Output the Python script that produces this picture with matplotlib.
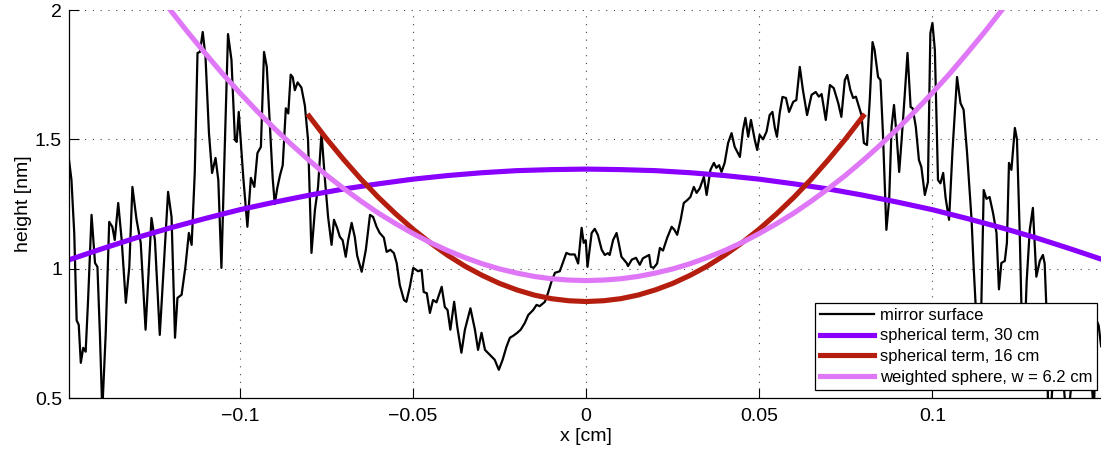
import matplotlib
matplotlib.use("Agg")
import matplotlib.pyplot as plt

plt.rcParams['font.family'] = ['Liberation Sans', 'DejaVu Sans']

# mirror surface profile (x in cm, height in nm)
surf_x = [
    -0.1493, -0.1486, -0.1478, -0.1471, -0.1465, -0.1459, -0.1452, -0.1445, -0.1438, -0.1428,
    -0.1418, -0.1411, -0.1404, -0.1397, -0.1387, -0.1377, -0.1368, -0.1361, -0.1351, -0.1341,
    -0.1329, -0.1319, -0.1310, -0.1298, -0.1286, -0.1272, -0.1255, -0.1245, -0.1231, -0.1207,
    -0.1197, -0.1187, -0.1180, -0.1168, -0.1157, -0.1147, -0.1139, -0.1130, -0.1122, -0.1115,
    -0.1107, -0.1099, -0.1089, -0.1080, -0.1070, -0.1062, -0.1053, -0.1045, -0.1034, -0.1024,
    -0.1014, -0.1009, -0.1003, -0.0990, -0.0978, -0.0968, -0.0958, -0.0949, -0.0939, -0.0930,
    -0.0922, -0.0913, -0.0905, -0.0899, -0.0892, -0.0884, -0.0876, -0.0867, -0.0860, -0.0853,
    -0.0847, -0.0841, -0.0833, -0.0822, -0.0812, -0.0803, -0.0799, -0.0793, -0.0783, -0.0774,
    -0.0764, -0.0754, -0.0745, -0.0735, -0.0728, -0.0719, -0.0711, -0.0703, -0.0694, -0.0687,
    -0.0677, -0.0668, -0.0661, -0.0648, -0.0636, -0.0624, -0.0615, -0.0605, -0.0596, -0.0584,
    -0.0576, -0.0565, -0.0555, -0.0547, -0.0538, -0.0526, -0.0519, -0.0509, -0.0499, -0.0485,
    -0.0475, -0.0469, -0.0460, -0.0451, -0.0442, -0.0432, -0.0417, -0.0408, -0.0400, -0.0392,
    -0.0381, -0.0372, -0.0360, -0.0350, -0.0334, -0.0321, -0.0312, -0.0302, -0.0292, -0.0278,
    -0.0264, -0.0252, -0.0241, -0.0230, -0.0220, -0.0211, -0.0199, -0.0189, -0.0177, -0.0167,
    -0.0153, -0.0143, -0.0134, -0.0119, -0.0110, -0.0100, -0.0090, -0.0076, -0.0057, -0.0047,
    -0.0033, -0.0023, -0.0013, -0.0007, -0.0001, 0.0004, 0.0016, 0.0025, 0.0034, 0.0045,
    0.0054, 0.0063, 0.0068, 0.0078, 0.0088, 0.0094, 0.0102, 0.0117, 0.0121, 0.0132,
    0.0144, 0.0155, 0.0164, 0.0172, 0.0182, 0.0187, 0.0195, 0.0205, 0.0213, 0.0222,
    0.0234, 0.0247, 0.0255, 0.0263, 0.0273, 0.0282, 0.0292, 0.0301, 0.0311, 0.0319,
    0.0328, 0.0340, 0.0348, 0.0359, 0.0369, 0.0376, 0.0384, 0.0391, 0.0400, 0.0410,
    0.0420, 0.0429, 0.0444, 0.0453, 0.0460, 0.0468, 0.0476, 0.0487, 0.0494, 0.0501,
    0.0511, 0.0521, 0.0530, 0.0538, 0.0545, 0.0551, 0.0559, 0.0567, 0.0577, 0.0586,
    0.0598, 0.0607, 0.0617, 0.0626, 0.0638, 0.0651, 0.0663, 0.0672, 0.0680, 0.0692,
    0.0704, 0.0715, 0.0728, 0.0737, 0.0747, 0.0754, 0.0763, 0.0771, 0.0779, 0.0788,
    0.0795, 0.0802, 0.0811, 0.0819, 0.0827, 0.0833, 0.0843, 0.0850, 0.0857, 0.0867,
    0.0875, 0.0882, 0.0889, 0.0896, 0.0904, 0.0911, 0.0920, 0.0928, 0.0937, 0.0943,
    0.0952, 0.0961, 0.0968, 0.0978, 0.0987, 0.0994, 0.1000, 0.1007, 0.1016, 0.1023,
    0.1031, 0.1038, 0.1048, 0.1058, 0.1071, 0.1081, 0.1090, 0.1100, 0.1113, 0.1119,
    0.1127, 0.1134, 0.1141, 0.1148, 0.1156, 0.1165, 0.1175, 0.1185, 0.1192, 0.1199,
    0.1209, 0.1215, 0.1221, 0.1228, 0.1238, 0.1244, 0.1252, 0.1257, 0.1264, 0.1272,
    0.1281, 0.1290, 0.1300, 0.1310, 0.1319, 0.1324, 0.1329, 0.1334, 0.1342, 0.1356,
    0.1370, 0.1385, 0.1391, 0.1396, 0.1411, 0.1431, 0.1448, 0.1466, 0.1474, 0.1480,
    0.1487,
]
surf_y = [
    1.42, 1.343, 1.138, 0.80, 0.783, 0.636, 0.694, 0.679, 0.879, 1.208,
    1.022, 1.007, 0.752, 0.45, 0.752, 1.181, 1.162, 1.111, 1.254, 1.111,
    0.868, 1.007, 1.316, 1.189, 1.100, 0.764, 1.196, 1.111, 0.744, 1.297,
    1.200, 0.733, 0.887, 0.899, 1.007, 1.138, 1.092, 1.370, 1.834, 1.838,
    1.915, 1.820, 1.524, 1.370, 1.428, 1.343, 1.003, 1.393, 1.907, 1.807,
    1.498, 1.490, 1.606, 1.355, 1.162, 1.351, 1.316, 1.447, 1.471, 1.838,
    1.78, 1.55, 1.35, 1.25, 1.31, 1.36, 1.40, 1.62, 1.60, 1.75,
    1.74, 1.69, 1.72, 1.70, 1.63, 1.50, 1.33, 1.061, 1.227, 1.316,
    1.524, 1.343, 1.200, 1.092, 1.189, 1.158, 1.123, 1.11, 1.046, 1.11,
    1.177, 1.123, 1.05, 0.988, 1.073, 1.208, 1.20, 1.162, 1.138, 1.12,
    1.065, 1.073, 1.06, 1.022, 0.937, 0.879, 0.872, 0.930, 1.003, 0.99,
    0.995, 0.910, 0.905, 0.829, 0.879, 0.87, 0.93, 0.852, 0.84, 0.764,
    0.872, 0.775, 0.675, 0.764, 0.847, 0.764, 0.686, 0.752, 0.686, 0.667,
    0.648, 0.609, 0.648, 0.698, 0.733, 0.74, 0.752, 0.764, 0.790, 0.821,
    0.840, 0.860, 0.855, 0.872, 0.906, 0.950, 0.984, 0.990, 1.061, 1.055,
    1.055, 1.020, 1.158, 1.100, 1.11, 1.007, 1.138, 1.154, 1.13, 1.073,
    1.053, 1.06, 1.053, 1.111, 1.138, 1.10, 1.046, 1.022, 1.01, 1.035,
    1.042, 1.015, 1.04, 1.046, 1.053, 1.007, 1.003, 1.02, 1.080, 1.07,
    1.119, 1.162, 1.15, 1.131, 1.189, 1.254, 1.265, 1.277, 1.316, 1.293,
    1.31, 1.355, 1.285, 1.382, 1.409, 1.39, 1.40, 1.374, 1.409, 1.486,
    1.524, 1.471, 1.432, 1.536, 1.583, 1.510, 1.575, 1.498, 1.459, 1.517,
    1.50, 1.53, 1.594, 1.606, 1.544, 1.510, 1.602, 1.664, 1.66, 1.606,
    1.645, 1.652, 1.780, 1.691, 1.594, 1.672, 1.683, 1.665, 1.675, 1.575,
    1.710, 1.698, 1.640, 1.587, 1.729, 1.749, 1.691, 1.660, 1.665, 1.625,
    1.594, 1.486, 1.478, 1.652, 1.876, 1.845, 1.741, 1.729, 1.524, 1.150,
    1.266, 1.548, 1.633, 1.524, 1.374, 1.498, 1.672, 1.834, 1.625, 1.62,
    1.548, 1.420, 1.393, 1.285, 1.335, 1.911, 1.950, 1.845, 1.343, 1.33,
    1.370, 1.274, 1.189, 1.459, 1.741, 1.640, 1.614, 1.447, 1.189, 1.007,
    0.80, 0.60, 0.85, 1.304, 1.27, 1.277, 1.215, 1.138, 0.92, 1.022,
    1.03, 1.10, 1.409, 1.382, 1.544, 1.50, 1.138, 0.85, 0.65, 0.95,
    1.15, 1.235, 0.969, 1.03, 1.053, 1.02, 0.85, 0.45, 0.45, 0.75,
    0.70, 0.45, 0.42, 0.48, 0.70, 0.65, 0.75, 0.45, 0.80, 0.78,
    0.70,
]

# spherical term, 30 cm
sph30_x = [-0.15, -0.14, -0.13, -0.12, -0.11, -0.10, -0.09, -0.08, -0.07, -0.06, -0.05,
           -0.04, -0.03, -0.02, -0.01, 0.0, 0.01, 0.02, 0.03, 0.04, 0.05, 0.06, 0.07,
           0.08, 0.09, 0.10, 0.11, 0.12, 0.13, 0.14, 0.15]
sph30_y = [1.031, 1.076, 1.119, 1.158, 1.194, 1.228, 1.257, 1.284, 1.308, 1.328, 1.346,
           1.360, 1.371, 1.379, 1.383, 1.385, 1.383, 1.379, 1.371, 1.360, 1.346, 1.328,
           1.308, 1.284, 1.257, 1.228, 1.194, 1.158, 1.119, 1.076, 1.031]

# spherical term, 16 cm
sph16_x = [-0.08, -0.075, -0.07, -0.065, -0.06, -0.055, -0.05, -0.045, -0.04, -0.035,
           -0.03, -0.025, -0.02, -0.015, -0.01, -0.005, 0.0, 0.005, 0.01, 0.015, 0.02,
           0.025, 0.03, 0.035, 0.04, 0.045, 0.05, 0.055, 0.06, 0.065, 0.07, 0.075, 0.08]
sph16_y = [1.590, 1.503, 1.422, 1.346, 1.276, 1.212, 1.153, 1.100, 1.052, 1.010,
           0.974, 0.943, 0.918, 0.898, 0.884, 0.876, 0.873, 0.876, 0.884, 0.898, 0.918,
           0.943, 0.974, 1.010, 1.052, 1.100, 1.153, 1.212, 1.276, 1.346, 1.422, 1.503, 1.590]

# weighted sphere, w = 6.2 cm
wsph_x = [-0.12, -0.115, -0.11, -0.105, -0.10, -0.095, -0.09, -0.085, -0.08, -0.075,
          -0.07, -0.065, -0.06, -0.055, -0.05, -0.045, -0.04, -0.035, -0.03, -0.025,
          -0.02, -0.015, -0.01, -0.005, 0.0, 0.005, 0.01, 0.015, 0.02, 0.025, 0.03,
          0.035, 0.04, 0.045, 0.05, 0.055, 0.06, 0.065, 0.07, 0.075, 0.08, 0.085,
          0.09, 0.095, 0.10, 0.105, 0.11, 0.115, 0.12]
wsph_y = [1.999, 1.914, 1.833, 1.754, 1.680, 1.609, 1.542, 1.479, 1.419, 1.362,
          1.310, 1.261, 1.215, 1.174, 1.136, 1.101, 1.070, 1.043, 1.019, 0.999,
          0.983, 0.970, 0.961, 0.956, 0.954, 0.956, 0.961, 0.970, 0.983, 0.999, 1.019,
          1.043, 1.070, 1.101, 1.136, 1.174, 1.215, 1.261, 1.310, 1.362, 1.419, 1.479,
          1.542, 1.609, 1.680, 1.754, 1.833, 1.914, 1.999]

fig = plt.figure(figsize=(11.01, 4.53), dpi=100)
ax = fig.add_axes([0.0627, 0.1214, 0.9396, 0.8565])

ax.plot(surf_x, surf_y, color='black', lw=1.6, label='mirror surface')
ax.plot(sph30_x, sph30_y, color='#8a00ff', lw=3.7, label='spherical term, 30 cm')
ax.plot(sph16_x, sph16_y, color='#b51e0e', lw=3.7, label='spherical term, 16 cm')
ax.plot(wsph_x, wsph_y, color='#df77f7', lw=3.7, label='weighted sphere, w = 6.2 cm')

ax.set_xlim(-0.1493, 0.1494)
ax.set_ylim(0.5, 2)
ax.set_xticks([-0.1, -0.05, 0, 0.05, 0.1])
ax.set_xticklabels(['\u22120.1', '\u22120.05', '0', '0.05', '0.1'])
ax.set_yticks([0.5, 1, 1.5, 2])
ax.set_yticklabels(['0.5', '1', '1.5', '2'])
ax.tick_params(direction='in', length=7, width=0.8, labelsize=14)
ax.tick_params(axis='x', pad=7)
ax.tick_params(axis='y', pad=5)

ax.grid(True, color='#444444', linestyle=(0, (1, 6)), linewidth=0.8)
ax.spines['top'].set_visible(False)
ax.spines['right'].set_visible(False)
for s in ['left', 'bottom']:
    ax.spines[s].set_linewidth(0.9)

ax.set_xlabel('x [cm]', fontsize=14, labelpad=2)
ax.set_ylabel('height [nm]', fontsize=14, labelpad=2)

leg = ax.legend(loc='lower right', bbox_to_anchor=(0.9964, 0.139),
                bbox_transform=fig.transFigure, borderaxespad=0,
                fancybox=False, framealpha=1, edgecolor='black',
                fontsize=12, handlelength=3.2, handletextpad=0.35,
                labelspacing=0.35, borderpad=0.3)
leg.get_frame().set_linewidth(0.9)

fig.savefig('out.png', dpi=100)
